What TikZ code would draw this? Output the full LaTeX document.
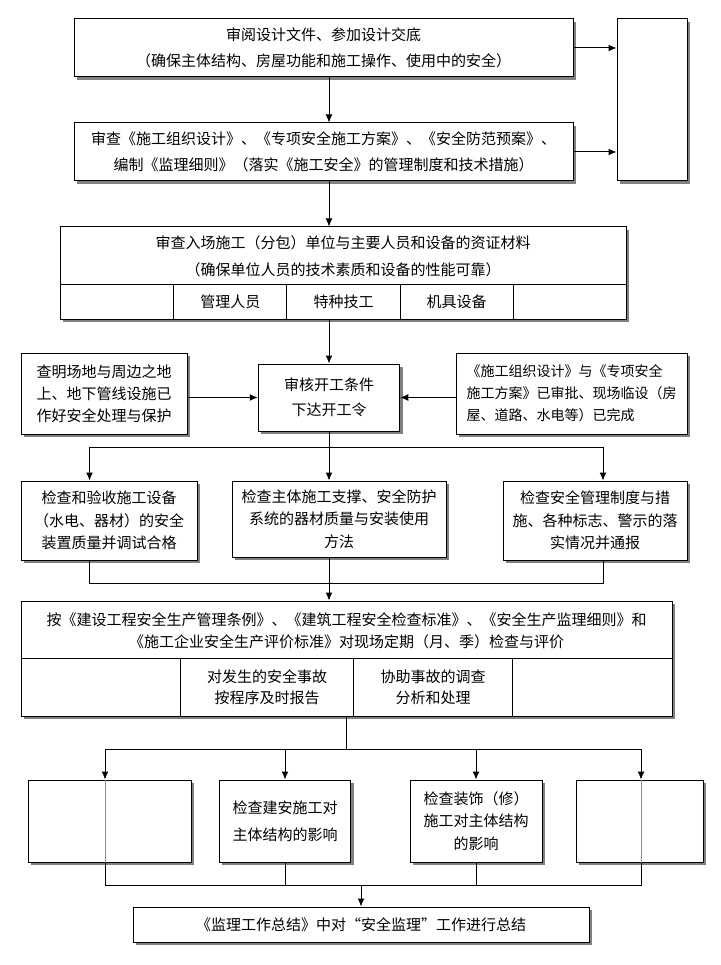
\documentclass[tikz,border=0pt]{standalone}
\usepackage{fontspec}
\usetikzlibrary{arrows.meta,shadows}
\newfontfamily\cjk{Noto Sans CJK SC}
\newcommand{\zh}[2]{\cjk\fontsize{#1}{#2}\selectfont}

\begin{document}
\begin{tikzpicture}[x=1pt,y=-1pt,
    box/.style={draw, line width=1pt, fill=white, inner sep=0pt, align=center,
      font=\zh{15}{22},
      drop shadow={shadow xshift=3pt, shadow yshift=-3pt, fill=black!50, opacity=1}},
    cell/.style={draw, line width=1pt, inner sep=0pt, align=center, anchor=north west,
      font=\zh{15}{21}},
    head/.style={inner sep=0pt, align=center},
    arr/.style={-{Latex[length=8pt,width=7pt]}, line width=1pt},
    link/.style={line width=1pt}]
    \useasboundingbox (0,0) rectangle (720,965);

    \node[box, minimum width=499, minimum height=58, font=\zh{15}{26}] (review) at (323.5,48)
      {审阅设计文件、参加设计交底\\（确保主体结构、房屋功能和施工操作、使用中的安全）};
    \node[box, minimum width=499, minimum height=58, font=\zh{15}{26}] (plan) at (323.5,152)
      {审查《施工组织设计》、《专项安全施工方案》、《安全防范预案》、\\
       编制《监理细则》（落实《施工安全》的管理制度和技术措施）};
    \node[box, minimum width=70, minimum height=162] (side) at (652,100) {};

    \node[box, minimum width=566, minimum height=92] (qual) at (343,273) {};
    \node[head, font=\zh{15}{27}] (qualhead) at (343,256.5)
      {审查入场施工（分包）单位与主要人员和设备的资证材料\\（确保单位人员的技术素质和设备的性能可靠）};
    \node[cell, minimum width=113.2, minimum height=35] (q1) at (60,284) {};
    \node[cell, minimum width=113.2, minimum height=35] (q2) at (173.2,284) {管理人员};
    \node[cell, minimum width=113.2, minimum height=35] (q3) at (286.4,284) {特种技工};
    \node[cell, minimum width=113.2, minimum height=35] (q4) at (399.6,284) {机具设备};
    \node[cell, minimum width=113.2, minimum height=35] (q5) at (512.8,284) {};

    \node[box, minimum width=141.5, minimum height=67, font=\zh{15}{25}] (check) at (329,397.5)
      {审核开工条件\\下达开工令};
    \node[box, minimum width=166, minimum height=81, align=left] (site) at (104,393.5)
      {查明场地与周边之地\\上、地下管线设施已\\作好安全处理与保护};
    \node[box, minimum width=231, minimum height=81, align=left, font=\zh{14}{22}] (cond) at (571.5,393.5)
      {《施工组织设计》与《专项安全\\施工方案》已审批、现场临设（房\\屋、道路、水电等）已完成};

    \node[box, minimum width=176, minimum height=79, font=\zh{15}{22.5}] (equip) at (109,520.5)
      {检查和验收施工设备\\（水电、器材）的安全\\装置质量并调试合格};
    \node[box, minimum width=214, minimum height=76, font=\zh{15}{22.5}] (support) at (339,519)
      {检查主体施工支撑、安全防护\\系统的器材质量与安装使用\\方法};
    \node[box, minimum width=184, minimum height=79, font=\zh{15}{22.5}] (mgmt) at (595,520.5)
      {检查安全管理制度与措\\施、各种标志、警示的落\\实情况并通报};

    \node[box, minimum width=651, minimum height=115] (eval) at (346.5,658.5) {};
    \node[head, font=\zh{15}{22}] (evalhead) at (346.5,631)
      {按《建设工程安全生产管理条例》、《建筑工程安全检查标准》、《安全生产监理细则》和\\
       《施工企业安全生产评价标准》对现场定期（月、季）检查与评价};
    \node[cell, minimum width=159, minimum height=58] (e1) at (21,658) {};
    \node[cell, minimum width=173, minimum height=58] (e2) at (180,658) {对发生的安全事故\\按程序及时报告};
    \node[cell, minimum width=159, minimum height=58] (e3) at (353,658) {协助事故的调查\\分析和处理};
    \node[cell, minimum width=160, minimum height=58] (e4) at (512,658) {};

    \node[box, minimum width=163, minimum height=82] (xa) at (109.5,821) {};
    \node[box, minimum width=131.5, minimum height=82, font=\zh{15}{27}] (xb) at (285,821)
      {检查建安施工对\\主体结构的影响};
    \node[box, minimum width=132, minimum height=82, font=\zh{15}{22.5}] (xc) at (476,821)
      {检查装饰（修）\\施工对主体结构\\的影响};
    \node[box, minimum width=127, minimum height=82] (xd) at (639.5,821) {};

    \node[box, minimum width=456, minimum height=35] (summary) at (361,924.5)
      {《监理工作总结》中对“安全监理”工作进行总结};

    \draw[arr] (review.east) -- (review.east -| side.west);
    \draw[arr] (plan.east) -- (plan.east -| side.west);
    \draw[arr] (review.south -| check.north) -- (plan.north -| check.north);
    \draw[arr] (plan.south -| check.north) -- (qual.north -| check.north);
    \draw[arr] (qual.south -| check.north) -- (check.north);
    \draw[arr] (site.east |- check.west) -- (check.west);
    \draw[arr] (cond.west |- check.east) -- (check.east);

    \draw[link] (check.south) -- ++(0,16) coordinate (fork1);
    \draw[arr] (fork1) -| ([xshift=-19.5pt]equip.north);
    \draw[arr] (fork1) -| ([xshift=8pt]mgmt.north);
    \draw[arr] (fork1) -- (fork1 |- support.north);
    \draw[link] ([xshift=-19.5pt]equip.south) -- ++(0,23) coordinate (join1) -| ([xshift=8pt]mgmt.south);
    \draw[arr] (support.south -| fork1) -- (eval.north -| fork1);

    \draw[link] (eval.south) -- ++(0,33) coordinate (fork2);
    \draw[arr] (fork2) -| ([xshift=-4.5pt]xa.north);
    \draw[arr] (fork2) -| (xb.north);
    \draw[arr] (fork2) -| (xc.north);
    \draw[arr] (fork2) -| ([xshift=1.5pt]xd.north);
    \draw[link, black!45] ([xshift=-4.5pt]xa.north) -- ([xshift=-4.5pt]xa.south);
    \draw[link, black!45] ([xshift=1.5pt]xd.north) -- ([xshift=1.5pt]xd.south);
    \draw[link] ([xshift=-4.5pt]xa.south) -- ++(0,23) coordinate (join2) -| ([xshift=1.5pt]xd.south);
    \draw[link] (xb.south) -- (xb.south |- join2);
    \draw[link] (xc.south) -- (xc.south |- join2);
    \draw[arr] (join2 -| summary.north) -- (summary.north);
\end{tikzpicture}
\end{document}
